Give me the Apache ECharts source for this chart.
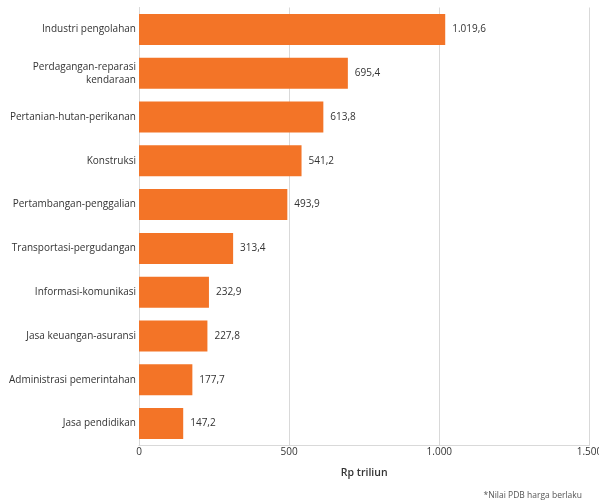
<!DOCTYPE html>
<html>
<head>
<meta charset="utf-8">
<script src="https://cdn.jsdelivr.net/npm/echarts@6/dist/echarts.min.js"></script>
<style>
  html, body { margin: 0; padding: 0; background: #fff; }
  #chart { width: 599px; height: 502px; }
</style>
</head>
<body>
<div id="chart"></div>
<script>
// Sectors, top to bottom
const sectors = [
  'Industri pengolahan',
  'Perdagangan-reparasi\nkendaraan',
  'Pertanian-hutan-perikanan',
  'Konstruksi',
  'Pertambangan-penggalian',
  'Transportasi-pergudangan',
  'Informasi-komunikasi',
  'Jasa keuangan-asuransi',
  'Administrasi pemerintahan',
  'Jasa pendidikan'
];
// GDP value per sector, Rp triliun
const values = [1019.6, 695.4, 613.8, 541.2, 493.9, 313.4, 232.9, 227.8, 177.7, 147.2];
const axisTicks = [0, 500, 1000, 1500];

const FONT = 'Open Sans';
const fmt = (v, d) => v.toLocaleString('id-ID', { minimumFractionDigits: d, maximumFractionDigits: d });

const chart = echarts.init(document.getElementById('chart'));
chart.setOption({
  animation: false,
  textStyle: { fontFamily: FONT },
  grid: { left: 139, right: 9.5, top: 7.5, bottom: 56.5, containLabel: false, outerBoundsMode: 'none' },
  xAxis: {
    type: 'value',
    min: axisTicks[0],
    max: axisTicks[axisTicks.length - 1],
    interval: axisTicks[1] - axisTicks[0],
    name: 'Rp triliun',
    nameLocation: 'middle',
    nameGap: 22,
    nameTextStyle: { fontFamily: FONT, fontSize: 10.5, fontWeight: 600, color: '#333' },
    axisLine: { show: true, lineStyle: { color: '#d9d9d9' } },
    axisTick: { show: false },
    axisLabel: { fontFamily: FONT, fontSize: 10, color: '#333', margin: 2,
      formatter: v => fmt(v, 0) },
    splitLine: { show: true, lineStyle: { color: '#d9d9d9' } }
  },
  yAxis: {
    type: 'category',
    data: sectors,
    inverse: true,
    axisLine: { show: true, lineStyle: { color: '#d9d9d9' } },
    axisTick: { show: false },
    axisLabel: { fontFamily: FONT, fontSize: 10, color: '#333', margin: 3, align: 'right', lineHeight: 13 }
  },
  series: [{
    type: 'bar',
    data: values,
    barWidth: 31,
    itemStyle: { color: '#f37427' },
    label: {
      show: true, position: 'right', distance: 7,
      fontFamily: FONT, fontSize: 10, color: '#333',
      formatter: p => fmt(p.value, 1)
    }
  }],
  graphic: [{
    type: 'text',
    right: 17, bottom: 2,
    style: { text: '*Nilai PDB harga berlaku', fontFamily: FONT, fontSize: 8.5, fill: '#555' }
  }]
});
</script>
</body>
</html>
